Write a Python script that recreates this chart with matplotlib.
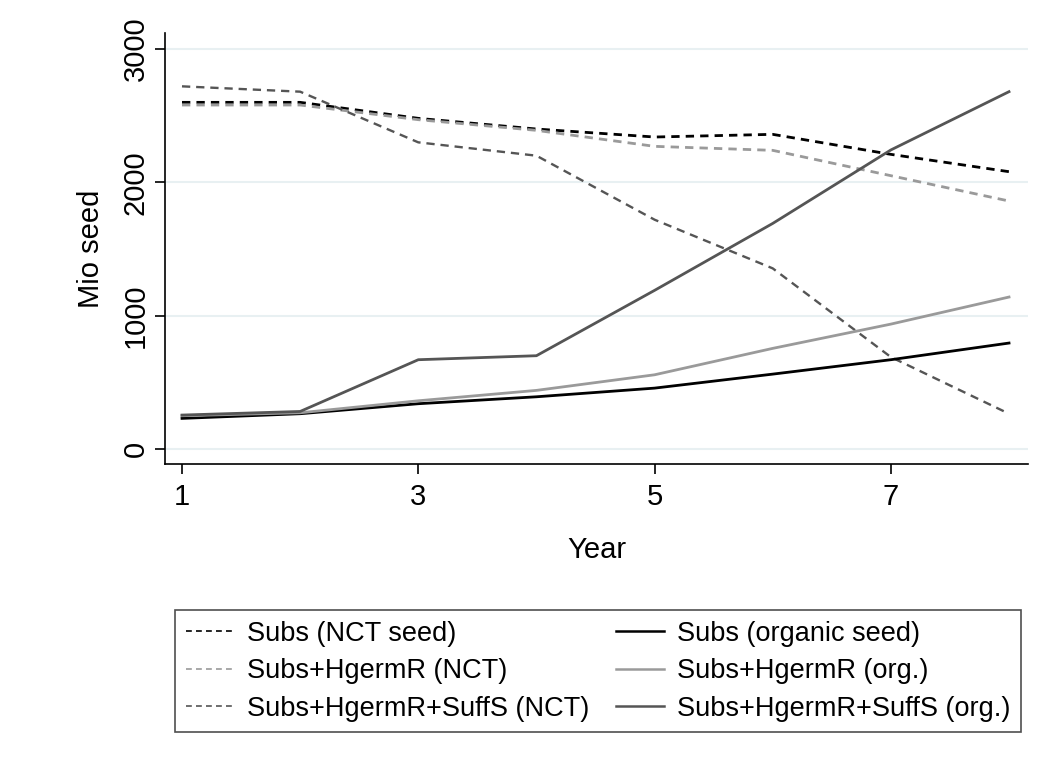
import matplotlib
matplotlib.use("Agg")
import matplotlib.pyplot as plt
from matplotlib.lines import Line2D

plt.rcParams['font.family'] = ['Liberation Sans', 'DejaVu Sans']

# data
years = [1, 2, 3, 4, 5, 6, 7, 8]
subs_nct = [2600, 2600, 2480, 2400, 2340, 2360, 2210, 2080]
hgerm_nct = [2580, 2580, 2470, 2390, 2270, 2240, 2050, 1860]
suffs_nct = [2720, 2680, 2300, 2200, 1720, 1355, 690, 265]
subs_org = [230, 265, 340, 392, 457, 562, 670, 795]
hgerm_org = [250, 272, 362, 440, 557, 755, 937, 1140]
suffs_org = [255, 282, 670, 700, 1190, 1692, 2243, 2680]

labels = ["Subs (NCT seed)", "Subs+HgermR (NCT)", "Subs+HgermR+SuffS (NCT)",
          "Subs (organic seed)", "Subs+HgermR (org.)", "Subs+HgermR+SuffS (org.)"]
yticks = [0, 1000, 2000, 3000]
xticks = [1, 3, 5, 7]

black = '#000000'
light = '#9a9a9a'
dark = '#555555'

fig = plt.figure(figsize=(10.44, 7.62), dpi=100)
ax = fig.add_axes([165 / 1044, 1 - 464 / 762, (1028 - 165) / 1044, (464 - 33) / 762])

for yv in yticks:
    ax.axhline(yv, color='#e8f0f2', lw=1.5, zorder=0)

ax.plot(years, subs_nct, color=black, lw=2, ls=(0, (3, 2.2)))
ax.plot(years, hgerm_nct, color=light, lw=2, ls=(0, (3, 2.2)))
ax.plot(years, suffs_nct, color=dark, lw=1.7, ls=(0, (3.5, 2.5)))
ax.plot(years, subs_org, color=black, lw=2)
ax.plot(years, hgerm_org, color=light, lw=2)
ax.plot(years, suffs_org, color=dark, lw=2)

ax.set_xlim(1 - 17 / 118.2, 8 + 19 / 118.2)
ax.set_ylim(-112, 3120)
ax.set_xticks(xticks)
ax.set_yticks(yticks)
ax.set_yticklabels([str(v) for v in yticks], rotation=90, va='center')
ax.tick_params(axis='both', labelsize=21, length=7, width=1.2, direction='out')
ax.tick_params(axis='y', pad=4)
ax.tick_params(axis='x', pad=7)

for s in ['top', 'right']:
    ax.spines[s].set_visible(False)
for s in ['left', 'bottom']:
    ax.spines[s].set_linewidth(1.2)

ax.set_xlabel('Year', fontsize=21, labelpad=18)
ax.set_ylabel('Mio seed', fontsize=21, labelpad=12)

# thinner handles for the legend, like the original
handles = [
    Line2D([], [], color=black, lw=1.2, ls=(0, (3.5, 2.5))),
    Line2D([], [], color=light, lw=1.2, ls=(0, (3.5, 2.5))),
    Line2D([], [], color=dark, lw=1.2, ls=(0, (3.5, 2.5))),
    Line2D([], [], color=black, lw=1.8),
    Line2D([], [], color=light, lw=1.8),
    Line2D([], [], color=dark, lw=1.8),
]

leg = fig.legend(handles, labels, ncol=2, loc='upper left',
                 bbox_to_anchor=(175 / 1044, 1 - 610 / 762),
                 fontsize=19.5, frameon=True, fancybox=False,
                 handlelength=1.75, handletextpad=0.5, labelspacing=0.42,
                 columnspacing=1.0, borderpad=0.4, borderaxespad=0)
leg.get_frame().set_edgecolor('#222222')
leg.get_frame().set_linewidth(1.2)

fig.savefig('out.png', dpi=100)
